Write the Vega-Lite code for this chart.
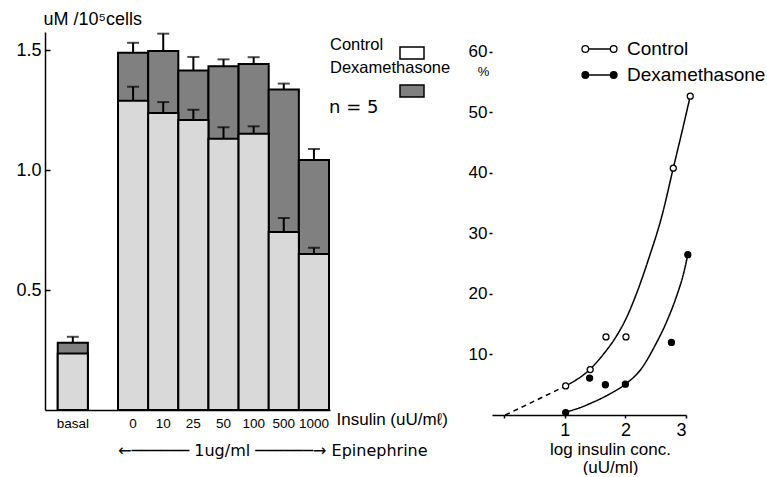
{
  "$schema": "https://vega.github.io/schema/vega-lite/v6.json",
  "autosize": {"type": "pad"},
  "padding": {"left": 15, "top": 10, "right": 0, "bottom": 0},
  "background": "white",
  "bounds": "flush",
  "spacing": 162,
  "config": {
    "font": "Liberation Sans",
    "view": {"stroke": null},
    "axis": {"grid": false, "domainColor": "black", "tickColor": "black", "labelColor": "black", "titleColor": "black", "domainWidth": 1.5, "tickWidth": 1.5, "titleFontWeight": "normal"},
    "legend": {"labelColor": "black"},
    "title": {"color": "black", "fontWeight": "normal"}
  },
  "title": {"text": "n = 5", "anchor": "start", "frame": "group", "font": "DejaVu Sans", "fontSize": 18, "fontWeight": "normal", "dx": 284, "dy": 116, "offset": 0, "baseline": "middle"},
  "resolve": {"scale": {"fill": "independent"}, "legend": {"fill": "independent"}},
  "hconcat": [
    {
      "width": 285,
      "height": 378,
      "title": {"text": "←────── 1ug/ml ──────→ Epinephrine", "orient": "bottom", "anchor": "start", "frame": "group", "font": "DejaVu Sans", "fontSize": 16, "fontWeight": "normal", "dx": 73, "offset": 21, "baseline": "middle"},
      "data": {"values": [
        {"insulin": "basal", "treatment": "Dexamethasone", "value": 0.28, "upper": 0.305},
        {"insulin": "0", "treatment": "Dexamethasone", "value": 1.489, "upper": 1.53},
        {"insulin": "10", "treatment": "Dexamethasone", "value": 1.496, "upper": 1.568},
        {"insulin": "25", "treatment": "Dexamethasone", "value": 1.415, "upper": 1.471},
        {"insulin": "50", "treatment": "Dexamethasone", "value": 1.432, "upper": 1.461},
        {"insulin": "100", "treatment": "Dexamethasone", "value": 1.442, "upper": 1.47},
        {"insulin": "500", "treatment": "Dexamethasone", "value": 1.335, "upper": 1.36},
        {"insulin": "1000", "treatment": "Dexamethasone", "value": 1.042, "upper": 1.0875},
        {"insulin": "basal", "treatment": "Control", "value": 0.235, "upper": null},
        {"insulin": "0", "treatment": "Control", "value": 1.289, "upper": 1.347},
        {"insulin": "10", "treatment": "Control", "value": 1.237, "upper": 1.283},
        {"insulin": "25", "treatment": "Control", "value": 1.208, "upper": 1.251},
        {"insulin": "50", "treatment": "Control", "value": 1.13, "upper": 1.178},
        {"insulin": "100", "treatment": "Control", "value": 1.151, "upper": 1.182},
        {"insulin": "500", "treatment": "Control", "value": 0.742, "upper": 0.8},
        {"insulin": "1000", "treatment": "Control", "value": 0.65, "upper": 0.676}
      ]},
      "encoding": {
        "x": {
          "field": "insulin", "type": "nominal",
          "scale": {"domain": ["basal", "_", "0", "10", "25", "50", "100", "500", "1000"], "paddingInner": 0, "paddingOuter": 0.228, "align": 0.927},
          "axis": {
            "title": "Insulin (uU/mℓ)", "titleX": 291, "titleY": 9, "titleAlign": "left", "titleBaseline": "middle", "titleFontSize": 17,
            "labelAngle": 0, "ticks": false, "labelPadding": 6,
            "labelFontSize": 13.5,
            "labelExpr": "datum.value == '_' ? '' : datum.value"
          }
        }
      },
      "layer": [
        {
          "mark": {"type": "bar", "stroke": "black", "strokeWidth": 2},
          "encoding": {
            "y": {
              "field": "value", "type": "quantitative", "stack": null,
              "scale": {"domain": [0, 1.575], "nice": false},
              "axis": {
                "title": "uM /10⁵cells", "titleAngle": 0, "titleAlign": "left", "titleX": -2, "titleY": -13, "titleBaseline": "middle", "titleFontSize": 18,
                "values": [0.5, 1, 1.5], "format": ".1f", "labelFontSize": 18, "tickSize": -5, "labelPadding": 9
              }
            },
            "fill": {
              "field": "treatment", "type": "nominal",
              "scale": {"domain": ["Control", "Dexamethasone"], "range": ["#d9d9d9", "#808080"]},
              "legend": {
                "orient": "none", "legendX": 354, "legendY": 8, "title": null,
                "symbolType": "M-1,-0.5H1V0.5H-1Z", "symbolSize": 576, "symbolStrokeColor": "black", "symbolStrokeWidth": 1.5,
                "labelFontSize": 16.5, "labelOffset": -95, "labelBaseline": "bottom", "rowPadding": -2,
                "encode": {
                  "symbols": {"update": {
                    "fillOpacity": {"signal": "datum.value === 'Control' ? 0 : 1"},
                    "stroke": {"value": "black"},
                    "strokeWidth": {"value": 1.5}
                  }},
                  "labels": {"update": {
                    "dy": {"signal": "datum.value === 'Dexamethasone' ? -15 : 0"}
                  }}
                }
              }
            }
          }
        },
        {
          "mark": {"type": "rule", "strokeWidth": 2, "color": "black"},
          "encoding": {
            "y": {"field": "value", "type": "quantitative"},
            "y2": {"field": "upper"}
          }
        },
        {
          "mark": {"type": "tick", "size": 12, "thickness": 2, "color": "black"},
          "encoding": {
            "y": {"field": "upper", "type": "quantitative"}
          }
        }
      ]
    },
    {
      "width": 194,
      "height": 383,
      "layer": [
        {
          "mark": {"type": "rule", "strokeWidth": 1.5, "color": "black"},
          "encoding": {
            "x": {"datum": -0.2, "type": "quantitative"},
            "y": {"datum": 0, "type": "quantitative"},
            "y2": {"datum": 60}
          }
        },
        {
          "data": {"values": [
            {"series": "Control", "style": "dashed", "logc": 0.02, "pct": 0},
            {"series": "Control", "style": "dashed", "logc": 0.5, "pct": 2.3},
            {"series": "Control", "style": "dashed", "logc": 1.015, "pct": 4.8},
            {"series": "Control", "style": "solid", "logc": 1.015, "pct": 4.8},
            {"series": "Control", "style": "solid", "logc": 1.42, "pct": 7.6},
            {"series": "Control", "style": "solid", "logc": 1.65, "pct": 10.2},
            {"series": "Control", "style": "solid", "logc": 1.85, "pct": 13.0},
            {"series": "Control", "style": "solid", "logc": 2.0, "pct": 15.7},
            {"series": "Control", "style": "solid", "logc": 2.2, "pct": 20.5},
            {"series": "Control", "style": "solid", "logc": 2.4, "pct": 26.3},
            {"series": "Control", "style": "solid", "logc": 2.6, "pct": 32.8},
            {"series": "Control", "style": "solid", "logc": 2.79, "pct": 40.8},
            {"series": "Control", "style": "solid", "logc": 2.95, "pct": 47.5},
            {"series": "Control", "style": "solid", "logc": 3.07, "pct": 52.7},
            {"series": "Dexamethasone", "style": "solid", "logc": 1.015, "pct": 0.5},
            {"series": "Dexamethasone", "style": "solid", "logc": 1.25, "pct": 1.2},
            {"series": "Dexamethasone", "style": "solid", "logc": 1.43, "pct": 1.95},
            {"series": "Dexamethasone", "style": "solid", "logc": 1.71, "pct": 3.3},
            {"series": "Dexamethasone", "style": "solid", "logc": 2.0, "pct": 5.1},
            {"series": "Dexamethasone", "style": "solid", "logc": 2.26, "pct": 7.6},
            {"series": "Dexamethasone", "style": "solid", "logc": 2.49, "pct": 11.5},
            {"series": "Dexamethasone", "style": "solid", "logc": 2.68, "pct": 15.4},
            {"series": "Dexamethasone", "style": "solid", "logc": 2.85, "pct": 19.8},
            {"series": "Dexamethasone", "style": "solid", "logc": 2.95, "pct": 23.0},
            {"series": "Dexamethasone", "style": "solid", "logc": 3.03, "pct": 26.5}
          ]},
          "mark": {"type": "line", "interpolate": "monotone", "color": "black", "strokeWidth": 1.5},
          "encoding": {
            "x": {
              "field": "logc", "type": "quantitative",
              "scale": {"domain": [-0.2, 3.0], "nice": false, "zero": false},
              "axis": {
                "values": [0, 1, 2, 3], "format": "d", "labelExpr": "datum.value == 0 ? '' : datum.label",
                "title": ["log insulin conc.", "(uU/ml)"], "titleFontSize": 17, "titleLineHeight": 18, "titleX": 118, "titleY": 26, "titleBaseline": "top", "titleAlign": "center",
                "labelFontSize": 18, "tickSize": 3, "labelPadding": 3
              }
            },
            "y": {
              "field": "pct", "type": "quantitative",
              "scale": {"domain": [0, 63.3], "nice": false},
              "axis": {
                "values": [10, 20, 30, 40, 50, 60], "domain": false,
                "title": "%", "titleAngle": 0, "titleX": -9, "titleY": 39, "titleAlign": "center", "titleBaseline": "middle", "titleFontSize": 13,
                "labelFontSize": 17, "tickSize": 3, "labelPadding": 2
              }
            },
            "detail": {"field": "series", "type": "nominal"},
            "strokeDash": {"field": "style", "type": "nominal", "scale": {"domain": ["solid", "dashed"], "range": [[1, 0], [5, 4]]}, "legend": null}
          }
        },
        {
          "data": {"values": [
            {"group": "Control", "logc": 1.015, "pct": 4.8},
            {"group": "Control", "logc": 1.42, "pct": 7.5},
            {"group": "Control", "logc": 1.68, "pct": 12.9},
            {"group": "Control", "logc": 2.01, "pct": 12.9},
            {"group": "Control", "logc": 2.79, "pct": 40.8},
            {"group": "Control", "logc": 3.07, "pct": 52.7},
            {"group": "Dexamethasone", "logc": 1.015, "pct": 0.4},
            {"group": "Dexamethasone", "logc": 1.41, "pct": 6.1},
            {"group": "Dexamethasone", "logc": 1.67, "pct": 5.0},
            {"group": "Dexamethasone", "logc": 2.0, "pct": 5.1},
            {"group": "Dexamethasone", "logc": 2.76, "pct": 12.0},
            {"group": "Dexamethasone", "logc": 3.03, "pct": 26.5}
          ]},
          "mark": {"type": "circle", "stroke": "black", "strokeWidth": 1.3, "size": 36, "opacity": 1},
          "encoding": {
            "x": {"field": "logc", "type": "quantitative"},
            "y": {"field": "pct", "type": "quantitative"},
            "fill": {
              "field": "group", "type": "nominal",
              "scale": {"domain": ["Control", "Dexamethasone"], "range": ["white", "black"]},
              "legend": {
                "orient": "none", "legendX": 89, "legendY": 4, "title": null,
                "symbolType": "M-1,0a0.19,0.19 0 1,0 0.38,0a0.19,0.19 0 1,0 -0.38,0Z M-0.62,0L0.62,0 M0.62,0a0.19,0.19 0 1,0 0.38,0a0.19,0.19 0 1,0 -0.38,0Z",
                "symbolSize": 1225, "symbolStrokeColor": "black", "symbolStrokeWidth": 1.3, "symbolOpacity": 1,
                "labelFontSize": 19, "labelOffset": 9, "clipHeight": 26, "rowPadding": 0
              }
            }
          }
        }
      ]
    }
  ]
}
